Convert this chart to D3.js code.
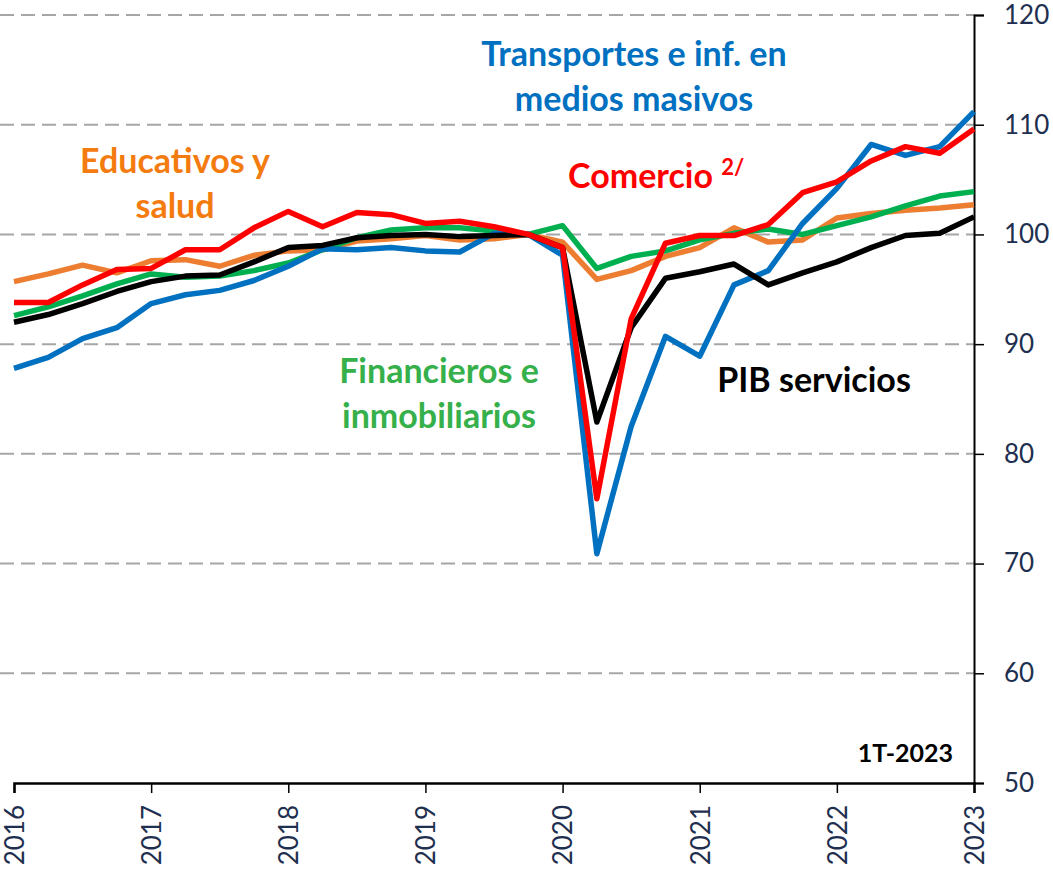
<!DOCTYPE html>
<html>
<head>
<meta charset="utf-8">
<script src="https://cdn.jsdelivr.net/npm/d3@7"></script>
<style>
  body { margin: 0; background: #fff; }
  text { font-family: Lato, 'Open Sans', sans-serif; }
</style>
</head>
<body>
<script>
const width = 1053
const height = 871

// quarters 2016-T1 .. 2023-T1
const quarters = d3.range(29).map((i) => 2016 + i / 4)
const yearTicks = [2016, 2017, 2018, 2019, 2020, 2021, 2022, 2023]
const valueTicks = [50, 60, 70, 80, 90, 100, 110, 120]

const pibServicios = [92.0, 92.7, 93.7, 94.8, 95.7, 96.2, 96.3, 97.5, 98.8, 99.0, 99.7, 99.9, 100.0, 99.8, 99.9, 100.0,
  98.8, 82.9, 91.5, 96.0, 96.6, 97.3, 95.4, 96.5, 97.5, 98.8, 99.9, 100.1, 101.6]
const comercio = [93.8, 93.8, 95.4, 96.8, 96.9, 98.6, 98.6, 100.6, 102.1, 100.7, 102.0, 101.8, 101.0, 101.2, 100.7, 100.0,
  98.8, 75.9, 92.3, 99.2, 99.9, 99.9, 100.9, 103.8, 104.8, 106.7, 108.0, 107.4, 109.6]
const transportes = [87.8, 88.8, 90.5, 91.5, 93.7, 94.5, 94.9, 95.8, 97.1, 98.7, 98.6, 98.8, 98.5, 98.4, 100.1, 100.0,
  98.1, 70.9, 82.5, 90.7, 88.9, 95.4, 96.7, 101.0, 104.2, 108.2, 107.2, 108.0, 111.2]
const financieros = [92.6, 93.4, 94.4, 95.5, 96.4, 96.1, 96.2, 96.7, 97.4, 98.6, 99.7, 100.4, 100.6, 100.6, 100.3, 100.0,
  100.8, 96.9, 98.0, 98.5, 99.5, 100.1, 100.5, 100.0, 100.8, 101.6, 102.6, 103.5, 103.9]
const educativos = [95.7, 96.4, 97.2, 96.5, 97.6, 97.7, 97.1, 98.1, 98.5, 98.6, 99.4, 99.6, 99.9, 99.5, 99.6, 100.0,
  99.3, 95.9, 96.7, 98.0, 98.8, 100.6, 99.3, 99.5, 101.5, 101.9, 102.2, 102.4, 102.7]

const series = [
  { name: 'educativos', values: educativos, color: '#ED7D31' },
  { name: 'financieros', values: financieros, color: '#00B050' },
  { name: 'transportes', values: transportes, color: '#0070C0' },
  { name: 'pib', values: pibServicios, color: '#000000' },
  { name: 'comercio', values: comercio, color: '#FF0000' }
]

const axisColor = '#1f2f4f'

let svg = d3.select('body').append('svg')
  .attr('width', width)
  .attr('height', height)

const x = d3.scaleLinear().domain([2016, 2023]).range([14, 974])
const y = d3.scaleLinear().domain([50, 120]).range([783, 15])

// dashed grid
svg.append('g')
  .selectAll('line')
  .data(valueTicks.filter((v) => v > 50))
  .enter()
  .append('line')
  .attr('x1', 0)
  .attr('x2', x(2023))
  .attr('y1', (d) => y(d))
  .attr('y2', (d) => y(d))
  .attr('stroke', '#a6a6a6')
  .attr('stroke-width', 2)
  .attr('stroke-dasharray', '14,7')

// x axis
let xAxis = svg.append('g')
  .attr('transform', `translate(0,${y(50)})`)
  .call(d3.axisBottom(x).tickValues(yearTicks).tickFormat(d3.format('d')).tickSize(10).tickPadding(12))
xAxis.select('.domain').attr('stroke', '#000').attr('stroke-width', 2.5)
xAxis.selectAll('.tick line').attr('stroke', '#000').attr('stroke-width', 1.5)
xAxis.selectAll('.tick text')
  .attr('fill', axisColor)
  .style('font-size', '26px')
  .attr('transform', 'rotate(-90)')
  .attr('text-anchor', 'end')
  .attr('x', -22)
  .attr('y', 0)
  .attr('dy', '0.36em')

// y axis on the right
let yAxis = svg.append('g')
  .attr('transform', `translate(${x(2023)},0)`)
  .call(d3.axisRight(y).tickValues(valueTicks).tickSize(10).tickPadding(20))
yAxis.select('.domain').attr('stroke', '#000').attr('stroke-width', 2)
yAxis.selectAll('.tick line').attr('stroke', '#000').attr('stroke-width', 1.5)
yAxis.selectAll('.tick text')
  .attr('fill', axisColor)
  .style('font-size', '26px')

// lines
const line = d3.line()
  .x((d, i) => x(quarters[i]))
  .y((d) => y(d))

svg.append('g')
  .selectAll('path')
  .data(series)
  .enter()
  .append('path')
  .attr('d', (d) => line(d.values))
  .attr('fill', 'none')
  .attr('stroke', (d) => d.color)
  .attr('stroke-width', 5.5)
  .attr('stroke-linejoin', 'round')

// labels
const labels = [
  { lines: ['Transportes e inf. en', 'medios masivos'], x: 634, y: 66, color: '#0070C0' },
  { lines: ['Educativos y', 'salud'], x: 175, y: 173, color: '#F47B0F' },
  { lines: ['Financieros e', 'inmobiliarios'], x: 439, y: 383, color: '#35B04A' },
  { lines: ['PIB servicios'], x: 814, y: 392, color: '#000000' }
]

labels.forEach((l) => {
  let t = svg.append('text')
    .attr('text-anchor', 'middle')
    .attr('fill', l.color)
    .style('font-size', '34px')
    .style('font-weight', 'bold')
  l.lines.forEach((s, i) => {
    t.append('tspan').attr('x', l.x).attr('y', l.y + i * 45).text(s)
  })
})

let com = svg.append('text')
  .attr('x', 568)
  .attr('y', 188)
  .attr('fill', '#FF0000')
  .style('font-size', '34px')
  .style('font-weight', 'bold')
com.append('tspan').text('Comercio ')
com.append('tspan').attr('dy', -13).style('font-size', '22px').text('2/')

svg.append('text')
  .attr('x', 953)
  .attr('y', 762)
  .attr('text-anchor', 'end')
  .style('font-size', '25px')
  .style('font-weight', 'bold')
  .attr('fill', '#000')
  .text('1T-2023')
</script>
</body>
</html>
